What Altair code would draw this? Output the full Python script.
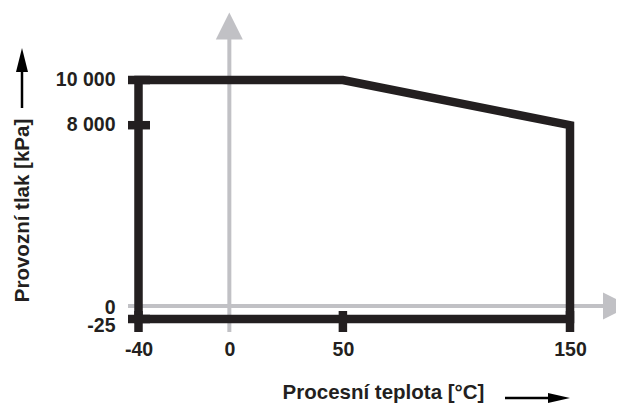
import altair as alt
import pandas as pd

# Operating envelope: process temperature [°C] vs operating pressure [kPa]
env_t = [-40, -40, 50, 150, 150, -40]
env_p = [-25, 10000, 10000, 8000, -25, -25]

x_ticks = [-40, 0, 50, 150]
x_tick_labels = ["-40", "0", "50", "150"]
y_ticks = [-25, 0, 8000, 10000]
y_tick_labels = ["-25", "0", "8 000", "10 000"]

x_stubs = [-40, 50, 150]      # short marks on the bottom edge
y_stubs = [-25, 8000, 10000]  # short marks on the left edge
origin_t = [0]                # grey temperature axis position
origin_p = [0]                # grey pressure axis position

BLACK = "#231f20"
GRAY = "#c1c1c5"
FONT = "Liberation Sans"
FS = 19.5
TFS = 20.5
LW = 8.5


def label_expr(vals, labels):
    e = "''"
    for v, l in reversed(list(zip(vals, labels))):
        e = f"datum.value == {v} ? '{l}' : ({e})"
    return e


xs = alt.Scale(domain=[-40, 150], range=[10.5, 442], nice=False, zero=False)
ys = alt.Scale(domain=[-25, 0, 10000], range=[311, 298, 72], nice=False, zero=False)

x_axis = alt.Axis(
    values=x_ticks, labelExpr=label_expr(x_ticks, x_tick_labels),
    labelFont=FONT, labelFontSize=FS, labelFontWeight="bold", labelColor=BLACK,
    ticks=False, tickSize=0, domain=False, grid=False, labelPadding=8,
    labelFlush=False, labelOverlap=False,
    title="Procesní teplota [°C]", titleFont=FONT, titleFontSize=TFS,
    titleFontWeight="bold", titleColor=BLACK, titleX=255, titleY=66,
    titleAlign="center", titleBaseline="alphabetic",
)
y_axis = alt.Axis(
    values=y_ticks, labelExpr=label_expr(y_ticks, y_tick_labels),
    labelFont=FONT, labelFontSize=FS, labelFontWeight="bold", labelColor=BLACK,
    ticks=False, tickSize=0, domain=False, grid=False, labelPadding=13,
    labelFlush=False, labelOverlap=False, labelBaseline="middle",
    labelOffset={
        "condition": [
            {"test": "datum.value == -25", "value": 6},
            {"test": "datum.value == 0", "value": 1.5},
        ],
        "value": -1,
    },
    title="Provozní tlak [kPa]", titleFont=FONT, titleFontSize=TFS,
    titleFontWeight="bold", titleColor=BLACK, titleAngle=270,
    titleX=-100, titleY=202, titleAlign="center", titleBaseline="alphabetic",
)


def X(f):
    return alt.X(f, type="quantitative", scale=xs, axis=x_axis)


def Y(f):
    return alt.Y(f, type="quantitative", scale=ys, axis=y_axis)


env = pd.DataFrame({"t": env_t, "p": env_p, "i": list(range(len(env_t)))})
xs_df = pd.DataFrame({"t": x_stubs})
ys_df = pd.DataFrame({"p": y_stubs})
ot_df = pd.DataFrame({"t": origin_t})
op_df = pd.DataFrame({"p": origin_p})
one = pd.DataFrame({"a": [0]})

TRI_UP = "M-1,1L0,-1L1,1Z"
TRI_RIGHT = "M-1,-1L1,0L-1,1Z"
TRI_UP_N = "M-0.5,1L0,-1L0.5,1Z"
TRI_RIGHT_N = "M-1,-0.45L1,0L-1,0.45Z"

envelope = alt.Chart(env).mark_line(
    color=BLACK, strokeWidth=LW, strokeJoin="miter", strokeCap="square"
).encode(x=X("t"), y=Y("p"), order=alt.Order("i:Q"))

gray_v = alt.Chart(ot_df).mark_rule(color=GRAY, strokeWidth=4).encode(
    x=X("t"), y=alt.value(31), y2=alt.value(324),
)
gray_h = alt.Chart(op_df).mark_rule(color=GRAY, strokeWidth=4).encode(
    y=Y("p"), x=alt.value(0), x2=alt.value(476),
)
gray_head_v = alt.Chart(ot_df).mark_point(
    shape=TRI_UP, filled=True, size=729, color=GRAY, opacity=1, strokeWidth=0
).encode(x=X("t"), y=alt.value(18))
gray_head_h = alt.Chart(op_df).mark_point(
    shape=TRI_RIGHT, filled=True, size=729, color=GRAY, opacity=1, strokeWidth=0
).encode(y=Y("p"), x=alt.value(488.5))

x_stub_marks = alt.Chart(xs_df).mark_rule(color=BLACK, strokeWidth=LW).encode(
    x=X("t"), y=alt.value(303), y2=alt.value(324),
)
y_stub_marks = alt.Chart(ys_df).mark_rule(color=BLACK, strokeWidth=LW).encode(
    y=Y("p"), x=alt.value(0), x2=alt.value(22),
)

y_arrow = alt.Chart(one).mark_rule(color="#000000", strokeWidth=2.5).encode(
    x=alt.value(-106), y=alt.value(64), y2=alt.value(100)
)
y_arrow_head = alt.Chart(one).mark_point(
    shape=TRI_UP_N, filled=True, size=576, color="#000000", opacity=1, strokeWidth=0
).encode(x=alt.value(-106), y=alt.value(52))

x_arrow = alt.Chart(one).mark_rule(color="#000000", strokeWidth=2.5).encode(
    x=alt.value(377), x2=alt.value(422), y=alt.value(390)
)
x_arrow_head = alt.Chart(one).mark_point(
    shape=TRI_RIGHT_N, filled=True, size=484, color="#000000", opacity=1, strokeWidth=0
).encode(x=alt.value(431), y=alt.value(390))

chart = alt.layer(
    gray_v, gray_h, gray_head_v, gray_head_h,
    envelope, x_stub_marks, y_stub_marks,
    y_arrow, y_arrow_head, x_arrow, x_arrow_head,
).properties(
    width=488, height=324,
    autosize=alt.AutoSizeParams(type="none"),
    padding={"left": 120, "top": 0, "right": 0, "bottom": 74},
    background="#ffffff",
).configure_view(strokeWidth=0)

chart.save("out.html", embed_options={"renderer": "svg", "actions": False})
